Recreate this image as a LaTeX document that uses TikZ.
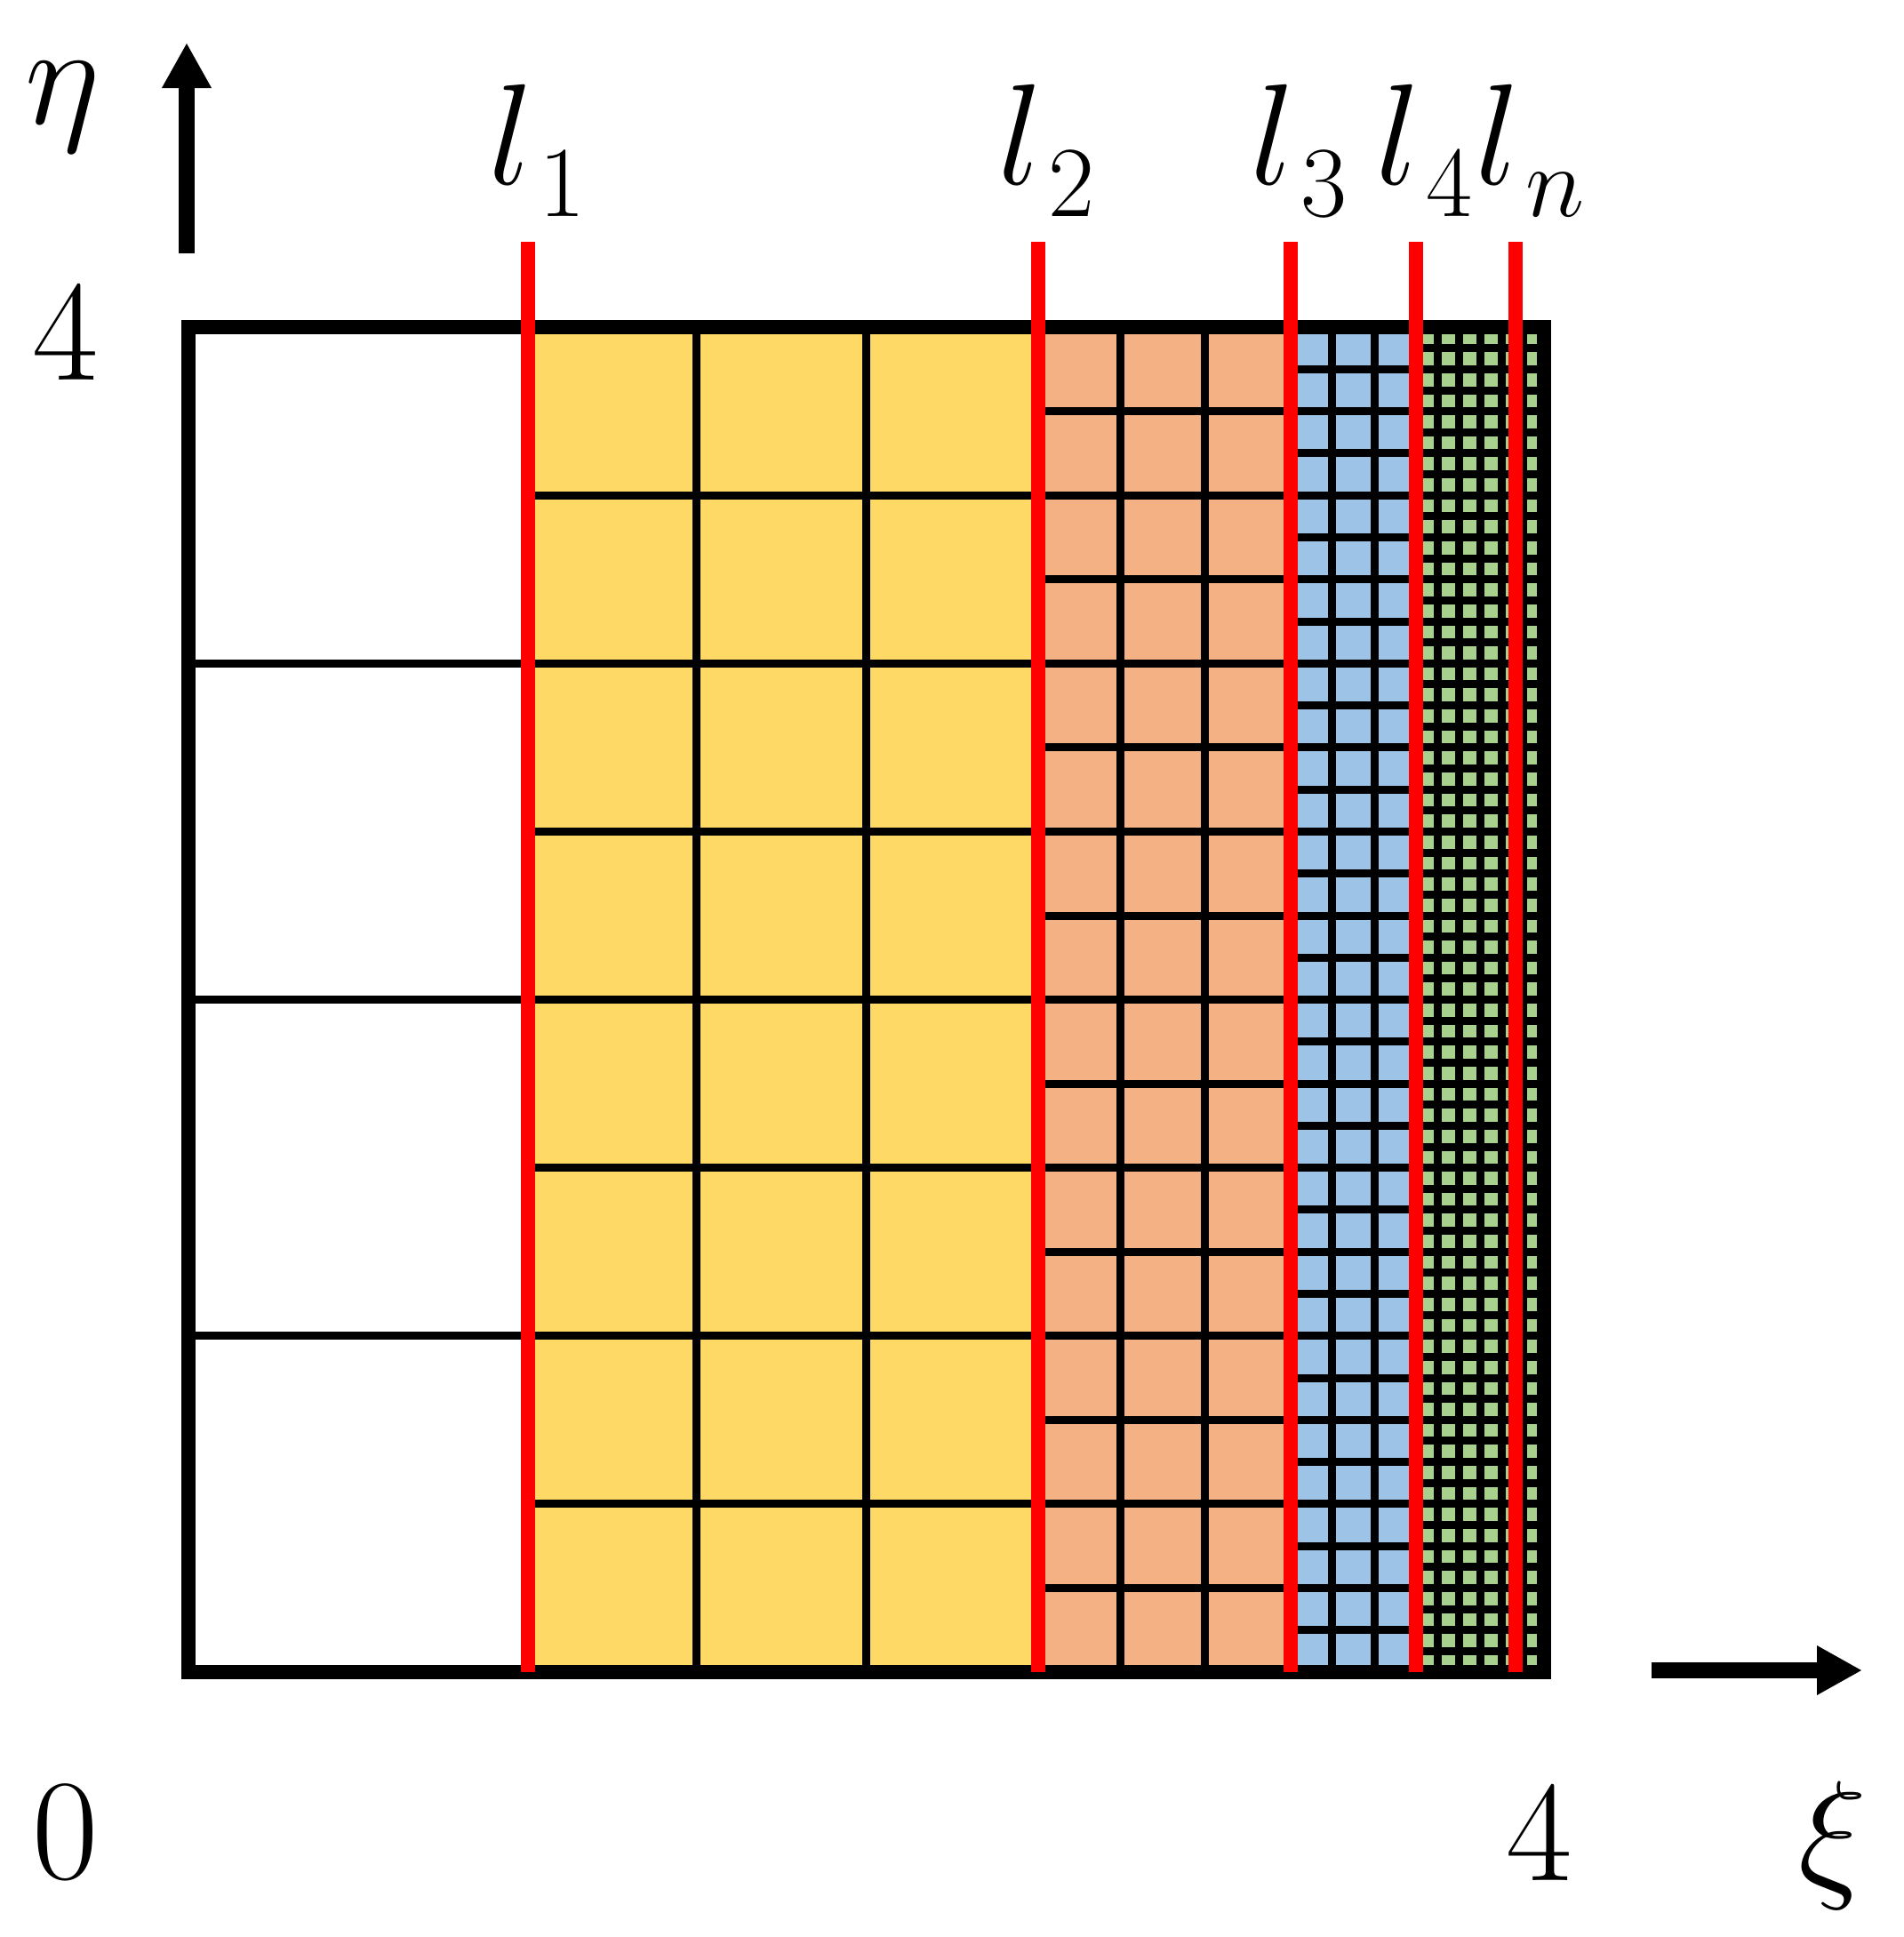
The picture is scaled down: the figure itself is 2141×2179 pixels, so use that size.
\RequirePackage{fix-cm}
\documentclass[tikz,border=0pt]{standalone}
\usetikzlibrary{arrows.meta}
\definecolor{cyel}{HTML}{FFD966}
\definecolor{cora}{HTML}{F4B183}
\definecolor{cblu}{HTML}{9DC3E6}
\definecolor{cgrn}{HTML}{A9D18E}
\newcommand{\lsub}[1]{l_{\kern0.1cm\lower0.11cm\hbox{$\scriptstyle #1$}}}
\tikzset{
  gridline/.style={line width=0.09cm, black},
  framebox/.style={line width=0.16cm, black},
  redline/.style={line width=0.16cm, red},
  axisarrow/.style={line width=0.18cm, -{Triangle[length=0.51cm,width=0.52cm]}},
  lab/.style={font=\fontsize{46}{50}\selectfont, inner sep=0pt, outer sep=0pt}
}
\begin{document}
\begin{tikzpicture}[x=0.01cm,y=-0.01cm]
\useasboundingbox (0,0) rectangle (2141,2179);
\begin{scope}[shift={(212,1881)},x=3.81cm,y=3.78cm]
  % fills
  \fill[cyel] (1,0) rectangle (2.5,4);
  \fill[cora] (2.5,0) rectangle (3.25,4);
  \fill[cblu] (3.25,0) rectangle (3.625,4);
  \fill[cgrn] (3.625,0) rectangle (4,4);
  % white region
  \foreach \i in {1,2,3} \draw[gridline] (0,\i) -- (1,\i);
  % yellow region
  \foreach \x in {1.5,2} \draw[gridline] (\x,0) -- (\x,4);
  \foreach \i in {1,...,7} \draw[gridline] (1,\i*0.5) -- (2.5,\i*0.5);
  % orange region
  \foreach \x in {2.75,3} \draw[gridline] (\x,0) -- (\x,4);
  \foreach \i in {1,...,15} \draw[gridline] (2.5,\i*0.25) -- (3.25,\i*0.25);
  % blue region
  \foreach \x in {3.375,3.5} \draw[gridline] (\x,0) -- (\x,4);
  \foreach \i in {1,...,31} \draw[gridline] (3.25,\i*0.125) -- (3.625,\i*0.125);
  % green region
  \foreach \i in {1,...,5} \draw[gridline] (3.625+\i*0.0625,0) -- (3.625+\i*0.0625,4);
  \foreach \i in {1,...,63} \draw[gridline] (3.625,\i*0.0625) -- (4,\i*0.0625);
  % region borders
  \foreach \x in {1,2.5,3.25,3.625} \draw[gridline] (\x,0) -- (\x,4);
  % frame
  \draw[framebox] (0,0) rectangle (4,4);
  % red lines
  \coordinate (r1b) at (1.003,0);   \coordinate (r1t) at (1.003,4.254);
  \coordinate (r2b) at (2.507,0);   \coordinate (r2t) at (2.507,4.254);
  \coordinate (r3b) at (3.252,0);   \coordinate (r3t) at (3.252,4.254);
  \coordinate (r4b) at (3.622,0);   \coordinate (r4t) at (3.622,4.254);
  \coordinate (rnb) at (3.916,0);   \coordinate (rnt) at (3.916,4.254);
  \draw[redline] (r1b) -- (r1t);
  \draw[redline] (r2b) -- (r2t);
  \draw[redline] (r3b) -- (r3t);
  \draw[redline] (r4b) -- (r4t);
  \draw[redline] (rnb) -- (rnt);
\end{scope}
% axis arrows
\coordinate (etaS) at (210,285);
\coordinate (etaE) at (210,48);
\coordinate (xiS) at (1858,1879);
\coordinate (xiE) at (2095,1879);
\draw[axisarrow] (etaS) -- (etaE);
\draw[axisarrow] (xiS) -- (xiE);
% labels
\node[lab, anchor=base] (eta) at (70,140) {$\eta$};
\node[lab, anchor=base] (xi) at (2062,2116) {$\xi$};
\node[lab, anchor=base] (tickfour) at (74,428) {4};
\node[lab, anchor=base] (tickzero) at (74,2113) {0};
\node[lab, anchor=base] (tickfourx) at (1732,2115) {4};
\node[lab, anchor=base west] (labone) at (549,208) {$\lsub{1}$};
\node[lab, anchor=base west] (labtwo) at (1122,208) {$\lsub{2}$};
\node[lab, anchor=base west] (labthree) at (1406,208) {$\lsub{3}$};
\node[lab, anchor=base west] (labfour) at (1547,208) {$\lsub{4}$};
\node[lab, anchor=base west] (labn) at (1659,208) {$\lsub{n}$};
\end{tikzpicture}
\end{document}
